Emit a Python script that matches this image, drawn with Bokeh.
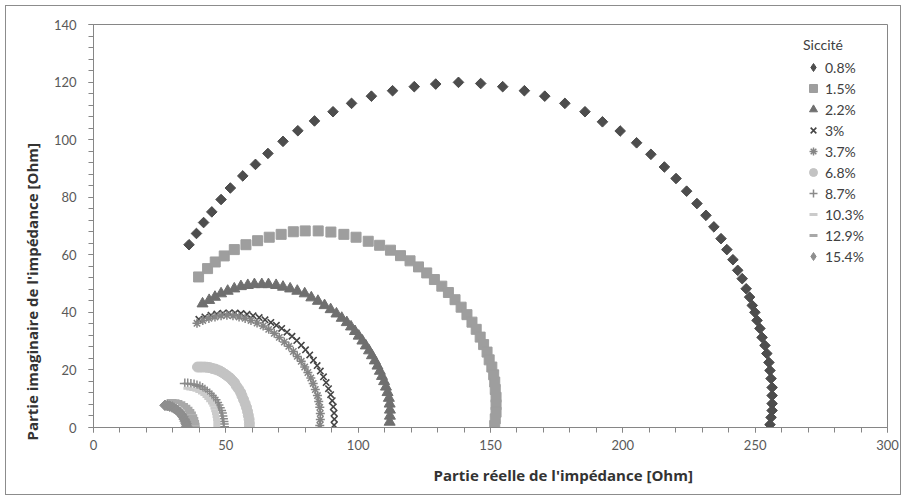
import math
from bokeh.plotting import figure
from bokeh.models import Legend, LegendItem, Title, SingleIntervalTicker, Range1d
from bokeh.embed import file_html
from bokeh.resources import INLINE

# ---- data ----
series_names = ["0.8%", "1.5%", "2.2%", "3%", "3.7%", "6.8%", "8.7%", "10.3%", "12.9%", "15.4%"]

s08_x = [36.1, 38.9, 41.6, 44.7, 48.2, 51.7, 56.4, 61.2, 65.9, 71.6, 77.2, 83.5, 90.5, 97.5, 105.0, 113.0,
         121.2, 129.3, 137.9, 146.3, 154.6, 162.8, 170.5, 178.1, 185.7, 192.3, 199.0, 205.2, 210.6, 215.7,
         220.1, 224.1, 228.0, 231.4, 234.4, 237.1, 239.3, 241.6, 243.4, 245.1, 246.6, 247.9, 248.9, 249.9,
         250.7, 251.8, 252.6, 253.7, 254.4, 255.2, 255.6, 256.0, 256.4, 256.4, 256.4, 256.4, 256.0, 255.6]
s08_y = [63.5, 67.4, 71.2, 74.9, 79.2, 83.2, 87.4, 91.4, 95.2, 99.4, 103.1, 106.5, 109.7, 112.6, 115.1, 117.0,
         118.4, 119.3, 119.9, 119.5, 118.4, 117.0, 115.1, 112.6, 109.7, 106.2, 103.0, 98.9, 94.9, 90.5,
         86.5, 82.1, 77.8, 73.7, 69.7, 65.6, 61.8, 58.3, 54.6, 51.7, 48.2, 45.3, 42.4, 40.0,
         37.2, 34.4, 31.3, 28.5, 25.7, 22.6, 19.8, 17.0, 13.9, 11.1, 8.3, 5.9, 3.5, 1.0]

s15_x = [39.7, 43.1, 46.0, 49.4, 53.2, 57.6, 62.0, 66.4, 70.9, 75.5, 80.0, 84.9, 89.7, 94.6, 99.2, 103.8,
         108.1, 112.2, 116.0, 119.6, 122.8, 125.9, 128.8, 131.6, 134.1, 136.6, 138.9, 141.1, 143.0, 144.6,
         146.1, 147.4, 148.7, 149.5, 150.5, 151.2, 151.6, 151.8, 152.1, 152.1, 152.1, 151.8, 151.6]
s15_y = [52.3, 55.2, 57.5, 59.6, 61.8, 63.5, 64.9, 66.1, 67.1, 68.0, 68.3, 68.3, 67.9, 67.1, 66.1, 64.7,
         63.3, 61.6, 59.7, 57.9, 55.8, 53.7, 51.4, 49.1, 46.9, 44.4, 41.8, 39.2, 36.6, 34.1,
         31.4, 28.8, 26.2, 23.5, 21.0, 18.3, 15.8, 13.2, 10.5, 7.9, 5.3, 3.0, 0.7]

s22_x = [41.2, 43.7, 45.9, 48.2, 50.7, 53.2, 55.7, 58.3, 60.8, 63.6, 66.1, 69.0, 71.6, 74.3, 77.0, 79.8,
         82.3, 84.8, 87.3, 89.6, 91.8, 93.8, 95.7, 97.3, 98.8, 100.2, 101.6, 102.9, 104.1, 105.2, 106.3,
         107.3, 108.2, 109.0, 109.8, 110.5, 111.1, 111.6, 111.9, 112.0, 112.0, 111.9]
s22_y = [43.0, 44.2, 45.3, 46.5, 47.4, 48.2, 49.0, 49.4, 49.7, 49.7, 49.7, 49.4, 48.8, 48.2, 47.4, 46.5,
         45.1, 43.9, 42.4, 41.0, 39.5, 38.0, 36.5, 35.0, 33.4, 31.8, 30.1, 28.4, 26.7, 25.0, 23.2,
         21.4, 19.6, 17.8, 16.0, 14.1, 12.2, 10.2, 8.2, 6.1, 4.0, 1.9]

s30_x = [39.8, 42.1, 44.4, 46.6, 48.9, 51.2, 53.5, 55.7, 58.0, 60.3, 62.6, 64.8, 67.0, 69.1, 71.1, 73.1,
         75.0, 76.8, 78.5, 80.1, 81.7, 83.1, 84.5, 85.7, 86.9, 87.9, 88.8, 89.6, 90.2, 90.6, 90.9, 91.0, 90.9]
s30_y = [37.6, 38.4, 39.0, 39.4, 39.7, 39.8, 39.8, 39.6, 39.3, 38.8, 38.2, 37.4, 36.5, 35.5, 34.4, 33.1,
         31.7, 30.2, 28.6, 27.0, 25.2, 23.4, 21.5, 19.6, 17.6, 15.6, 13.5, 11.4, 9.3, 7.2, 5.0, 2.9, 0.8]

s37_x = [39.1, 41.3, 43.6, 45.9, 48.2, 50.4, 52.7, 55.0, 57.3, 59.5, 61.8, 64.1, 66.2, 68.3, 70.2, 72.1,
         73.8, 75.5, 77.0, 78.5, 79.8, 81.0, 82.1, 83.0, 83.8, 84.6, 85.1, 85.5, 85.7, 85.7, 85.5]
s37_y = [36.2, 37.2, 37.9, 38.4, 38.8, 39.0, 38.8, 38.4, 37.9, 37.2, 36.3, 35.3, 34.1, 32.7, 31.3, 29.7,
         28.2, 26.4, 24.7, 23.0, 21.0, 19.1, 17.2, 15.3, 13.2, 11.1, 9.0, 7.0, 4.9, 2.8, 0.7]

s68_x = [39.3, 40.2, 41.1, 42.1, 43.0, 44.0, 44.9, 45.9, 46.8, 47.8, 48.7, 49.7, 50.6, 51.6, 52.5, 53.3,
         54.0, 54.8, 55.6, 56.1, 56.7, 57.3, 57.8, 58.2, 58.5, 58.8, 58.9, 58.9]
s68_y = [21.0, 21.0, 21.0, 21.0, 20.9, 20.8, 20.5, 20.3, 20.0, 19.6, 19.1, 18.5, 17.9, 17.2, 16.3, 15.5,
         14.4, 13.4, 12.2, 11.0, 9.7, 8.3, 7.0, 5.6, 4.2, 2.8, 1.4, 0.0]

s87_x = [34.5, 35.6, 36.8, 38.0, 39.1, 40.2, 41.2, 42.1, 43.0, 43.9, 44.7, 45.4, 46.1, 46.7, 47.2, 47.7,
         48.2, 48.5, 48.7, 48.9, 49.1, 49.2, 49.3]
s87_y = [15.3, 15.3, 15.1, 14.9, 14.6, 14.2, 13.7, 13.1, 12.5, 11.8, 11.1, 10.4, 9.6, 8.7, 7.8, 6.9,
         5.9, 5.0, 4.0, 3.0, 2.1, 1.2, 0.3]

s103_x = [35.3, 36.4, 37.5, 38.7, 39.8, 40.8, 41.7, 42.5, 43.2, 43.9, 44.6, 45.1, 45.5, 45.8, 46.1, 46.3,
          46.5, 46.6, 46.6]
s103_y = [13.6, 13.4, 13.2, 12.9, 12.5, 12.0, 11.5, 10.8, 10.1, 9.3, 8.5, 7.7, 6.8, 5.8, 4.9, 3.8,
          2.8, 1.7, 0.7]

s129_x = [29.5, 30.6, 31.7, 32.8, 33.8, 34.7, 35.5, 36.2, 36.8, 37.3, 37.7, 38.0, 38.2, 38.3]
s129_y = [9.4, 9.3, 9.0, 8.6, 8.0, 7.4, 6.7, 5.9, 5.0, 4.1, 3.1, 2.1, 1.1, 0.2]

s154_x = [27.0, 27.9, 28.8, 29.7, 30.5, 31.3, 32.0, 32.7, 33.3, 33.8, 34.3, 34.7, 35.0, 35.2]
s154_y = [7.7, 7.6, 7.4, 7.1, 6.7, 6.2, 5.7, 5.1, 4.4, 3.7, 2.9, 2.1, 1.3, 0.4]

x_title = "Partie réelle de l'impédance  [Ohm]"
y_title = "Partie imaginaire de l'impédance [Ohm]"
legend_title = "Siccité"

FONT = "Lato"
TFONT = "Open Sans"
AXIS = "#868686"
W, H = 896, 490

p = figure(width=W, height=H, output_backend="svg", toolbar_location=None,
           x_range=Range1d(0, 300), y_range=Range1d(0, 140),
           min_border_left=87, min_border_right=15, min_border_top=18, min_border_bottom=69)
p.styles = {"border": "1px solid #8c8c8c", "margin": "5px 0 0 5px"}
p.outline_line_color = AXIS
p.grid.visible = False
p.background_fill_color = "white"

p.xaxis.ticker = SingleIntervalTicker(interval=50, num_minor_ticks=5)
p.yaxis.ticker = SingleIntervalTicker(interval=20, num_minor_ticks=5)
for ax in (p.xaxis, p.yaxis):
    ax.axis_line_color = AXIS
    ax.major_tick_line_color = AXIS
    ax.minor_tick_line_color = AXIS
    ax.major_tick_in = 0
    ax.major_tick_out = 5
    ax.minor_tick_in = 0
    ax.minor_tick_out = 5
    ax.major_label_text_font = FONT
    ax.major_label_text_font_size = "13px"
    ax.major_label_text_color = "#595959"
p.xaxis.major_label_standoff = 7
p.yaxis.major_label_standoff = 12

specs = [
    (s08_x, s08_y, dict(marker="square", size=7.5, angle=math.pi / 4, fill_color="#4d4d4d", line_color="#4d4d4d")),
    (s15_x, s15_y, dict(marker="square", size=10, fill_color="#9e9e9e", line_color="#9e9e9e")),
    (s22_x, s22_y, dict(marker="triangle", size=11, fill_color="#6f6f6f", line_color="#6f6f6f")),
    (s30_x, s30_y, dict(marker="x", size=9, line_color="#454545", line_width=1.6)),
    (s37_x, s37_y, dict(marker="asterisk", size=9, line_color="#858585", line_width=1.5)),
    (s68_x, s68_y, dict(marker="circle", size=10, fill_color="#c3c3c3", line_color="#c3c3c3")),
    (s87_x, s87_y, dict(marker="cross", size=10, line_color="#8a8a8a", line_width=1.5)),
    (s103_x, s103_y, dict(marker="dash", size=7, line_color="#cbcbcb", line_width=3)),
    (s129_x, s129_y, dict(marker="dash", size=10, line_color="#a8a8a8", line_width=3)),
    (s154_x, s154_y, dict(marker="square", size=7.5, angle=math.pi / 4, fill_color="#8e8e8e", line_color="#8e8e8e")),
]

items = []
for name, (xs, ys, kw) in zip(series_names, specs):
    legend_rs = []
    if kw.get("angle"):
        # an upright diamond hidden beneath the rotated squares; used as legend swatch
        under = p.scatter(xs, ys, marker="diamond", size=9,
                          fill_color=kw["fill_color"], line_color=kw["line_color"])
        legend_rs = [under]
    r = p.scatter(xs, ys, **kw)
    if not legend_rs:
        legend_rs = [r]
    items.append(LegendItem(label=name, renderers=legend_rs))

legend = Legend(items=items, location=(710, 161), title=legend_title)
legend.border_line_color = None
legend.background_fill_alpha = 0
legend.padding = 0
legend.margin = 0
legend.spacing = 1
legend.glyph_height = 20
legend.glyph_width = 20
legend.label_height = 20
legend.label_standoff = 2
legend.title_standoff = 4
legend.label_text_font = FONT
legend.label_text_font_size = "14px"
legend.label_text_color = "#404040"
legend.title_text_font = FONT
legend.title_text_font_size = "14px"
legend.title_text_font_style = "normal"
legend.title_text_color = "#404040"
p.add_layout(legend)

xt = Title(text=x_title, align="left", offset=340, vertical_align="middle", standoff=22,
           text_font=TFONT, text_font_size="15px", text_font_style="bold", text_color="#333333")
yt = Title(text=y_title, align="left", offset=-13, vertical_align="middle", standoff=16,
           text_font=TFONT, text_font_size="15px", text_font_style="bold", text_color="#333333")
p.add_layout(xt, "below")
p.add_layout(yt, "left")

open("out.html", "w").write(file_html(p, INLINE))
